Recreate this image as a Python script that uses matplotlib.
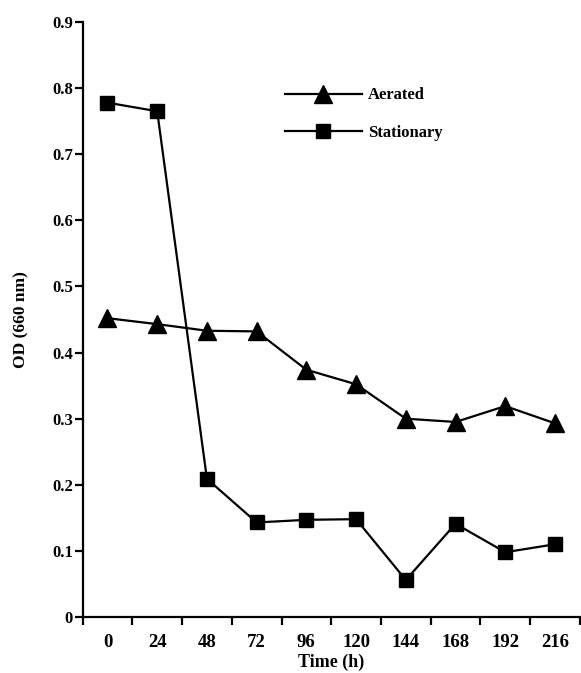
import numpy as np
import matplotlib.pyplot as plt

times = ['0', '24', '48', '72', '96', '120', '144', '168', '192', '216']
aerated = [0.452, 0.443, 0.433, 0.432, 0.374, 0.352, 0.300, 0.295, 0.319, 0.293]
stationary = [0.778, 0.765, 0.209, 0.143, 0.147, 0.148, 0.056, 0.141, 0.098, 0.110]

plt.rcParams['font.family'] = ['Liberation Serif', 'DejaVu Serif']
plt.rcParams['font.weight'] = 'bold'

fig = plt.figure(figsize=(5.81, 6.73), dpi=100)
ax = fig.add_axes([0.1422, 0.0832, 0.8558, 0.8841])

x = np.arange(len(times))
ax.plot(x, aerated, color='black', lw=1.6, marker='^', markersize=12.5,
        label='Aerated')
ax.plot(x, stationary, color='black', lw=1.6, marker='s', markersize=10,
        label='Stationary')

ax.set_xlim(-0.5, len(times) - 0.5)
ax.set_ylim(0, 0.9)

# category labels centred, tick marks on the bin edges
ax.set_xticks(x)
ax.set_xticklabels(times, fontsize=13.5, fontweight='bold')
ax.tick_params(axis='x', which='major', length=0, pad=12)
ax.set_xticks(np.arange(len(times) + 1) - 0.5, minor=True)
ax.tick_params(axis='x', which='minor', length=6, width=1.6, direction='out')

yt = np.round(np.arange(0, 0.91, 0.1), 1)
ax.set_yticks(yt)
ax.set_yticklabels(['0'] + [f'{v:.1f}' for v in yt[1:]], fontsize=12,
                   fontweight='bold')
ax.tick_params(axis='y', length=6, width=1.6, pad=1)

for s in ['top', 'right']:
    ax.spines[s].set_visible(False)
for s in ['left', 'bottom']:
    ax.spines[s].set_linewidth(1.6)

ax.set_xlabel('Time (h)', fontsize=13, fontweight='bold', labelpad=2)
ax.set_ylabel('OD (660 nm)', fontsize=12.5, fontweight='bold', labelpad=16)

ax.legend(loc='upper left', bbox_to_anchor=(0.407, 0.89), frameon=False,
          fontsize=12, handlelength=4.6, labelspacing=1.28,
          handletextpad=0.36, borderpad=0, borderaxespad=0)

fig.savefig('out.png', dpi=100)
